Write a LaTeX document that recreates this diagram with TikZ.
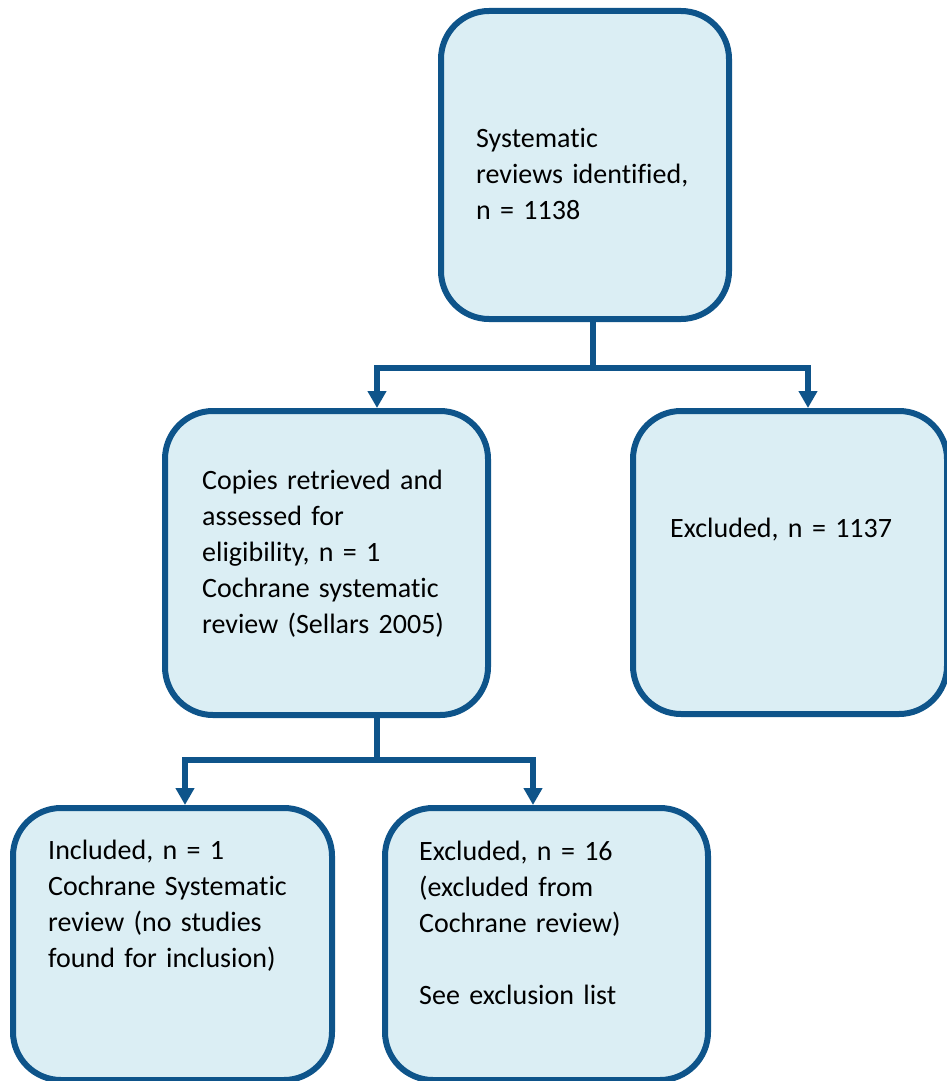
\documentclass[tikz,border=0pt]{standalone}
\usepackage{fontspec}
\setmainfont[Ligatures={NoCommon,NoContextual}]{Carlito}
\usetikzlibrary{arrows.meta}

\definecolor{boxfill}{RGB}{219,238,244}
\definecolor{boxline}{RGB}{14,84,138}

\tikzset{
  stagebox/.style={draw=boxline, fill=boxfill, line width=6pt,
    rounded corners=48pt, rectangle, inner sep=0pt},
  boxtext/.style={anchor=base west, inner sep=0pt, text width=320pt,
    align=left, font=\fontsize{28}{36}\selectfont, text=black},
  link/.style={draw=boxline, line width=5.5pt},
  arrowlink/.style={link, -{Triangle[width=18pt,length=17pt]}}
}

\begin{document}
\begin{tikzpicture}[x=1pt, y=-1pt]
  \useasboundingbox (0,0) rectangle (946,1081);

  % stage boxes
  \node[stagebox, minimum width=288pt, minimum height=308pt] (ident) at (585,165) {};
  \node[stagebox, minimum width=323pt, minimum height=304pt] (retr) at (326.5,563) {};
  \node[stagebox, minimum width=314pt, minimum height=303pt] (excla) at (790,562.5) {};
  \node[stagebox, minimum width=319pt, minimum height=272pt] (incl) at (172.5,944) {};
  \node[stagebox, minimum width=323pt, minimum height=272pt] (exclb) at (546.5,944) {};

  % box texts
  \node[boxtext] (identtxt) at (476,147) {Systematic\\reviews identified,\\n = 1138};
  \node[boxtext] (retrtxt) at (202,489) {Copies retrieved and\\assessed for\\eligibility, n = 1\\Cochrane systematic\\review (Sellars 2005)};
  \node[boxtext] (exclatxt) at (670,537) {Excluded, n = 1137};
  \node[boxtext] (incltxt) at (48,859) {Included, n = 1\\Cochrane Systematic\\review (no studies\\found for inclusion)};
  \node[boxtext] (exclbtxt) at (419,860) {Excluded, n = 16\\(excluded from\\Cochrane review)\\[36pt]See exclusion list};

  % first split
  \coordinate (j1) at (593,368);
  \coordinate (a1) at (377,368);
  \coordinate (a2) at (808,368);
  \draw[link] (ident.south -| j1) -- (j1);
  \draw[arrowlink] (a2) -- (a1) -- (retr.north -| a1);
  \draw[arrowlink] (a1) -- (a2) -- (excla.north -| a2);

  % second split
  \coordinate (j2) at (377,760);
  \coordinate (b1) at (185,760);
  \coordinate (b2) at (533,760);
  \draw[link] (retr.south -| j2) -- (j2);
  \draw[arrowlink] (b2) -- (b1) -- (incl.north -| b1);
  \draw[arrowlink] (b1) -- (b2) -- (exclb.north -| b2);
\end{tikzpicture}
\end{document}
